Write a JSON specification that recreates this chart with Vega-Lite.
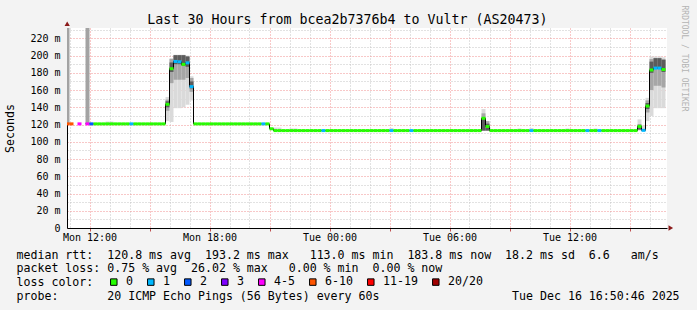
{
  "$schema": "https://vega.github.io/schema/vega-lite/v6.json",
  "width": 600,
  "height": 200,
  "autosize": "none",
  "padding": {"left": 67, "top": 28, "right": 30, "bottom": 82},
  "background": "#f3f3f3",
  "view": {"fill": "#ffffff", "stroke": null},
  "title": {
    "text": "Last 30 Hours from bcea2b7376b4 to Vultr (AS20473)",
    "font": "DejaVu Sans Mono", "fontSize": 13.3, "fontWeight": "normal", "color": "#000000",
    "anchor": "middle", "frame": "group", "baseline": "alphabetic", "offset": 0, "dx": -19.5, "dy": 32.5
  },
  "config": {
    "axis": {"labelFont": "DejaVu Sans Mono", "labelFontSize": 10, "labelColor": "#000000", "titleFont": "DejaVu Sans Mono", "titleFontSize": 11.6, "titleFontWeight": "normal", "titleColor": "#000000"}
  },
  "datasets": {
    "smoke": [
      {"t": 10.8, "t2": 11.0, "lo": 120.8, "hi": 240, "band": "bar"},
      {"t": 11.8, "t2": 12.0, "lo": 120.8, "hi": 240, "band": "bar"},
      {"t": 12.8, "t2": 13.0, "lo": 120.8, "hi": 123.5, "band": "light"},
      {"t": 13.0, "t2": 13.2, "lo": 120.8, "hi": 123.5, "band": "light"},
      {"t": 15.8, "t2": 16.0, "lo": 124, "hi": 152, "band": "light"},
      {"t": 16.0, "t2": 16.2, "lo": 123, "hi": 197, "band": "light"},
      {"t": 16.2, "t2": 16.4, "lo": 139, "hi": 201, "band": "light"},
      {"t": 16.4, "t2": 16.6, "lo": 139, "hi": 201, "band": "light"},
      {"t": 16.6, "t2": 16.8, "lo": 140, "hi": 201, "band": "light"},
      {"t": 16.8, "t2": 17.0, "lo": 143, "hi": 200, "band": "light"},
      {"t": 17.0, "t2": 17.2, "lo": 148, "hi": 176, "band": "light"},
      {"t": 21.2, "t2": 21.4, "lo": 113, "hi": 116.5, "band": "light"},
      {"t": 21.4, "t2": 21.6, "lo": 113, "hi": 116.5, "band": "light"},
      {"t": 22.0, "t2": 22.2, "lo": 113, "hi": 115.5, "band": "light"},
      {"t": 22.2, "t2": 22.4, "lo": 113, "hi": 115.5, "band": "light"},
      {"t": 27.0, "t2": 27.2, "lo": 113, "hi": 116, "band": "light"},
      {"t": 31.6, "t2": 31.8, "lo": 113, "hi": 138, "band": "light"},
      {"t": 33.4, "t2": 33.6, "lo": 113, "hi": 115.5, "band": "light"},
      {"t": 34.0, "t2": 34.2, "lo": 113, "hi": 116, "band": "light"},
      {"t": 35.8, "t2": 36.0, "lo": 113, "hi": 115.5, "band": "light"},
      {"t": 37.2, "t2": 37.4, "lo": 113, "hi": 115.5, "band": "light"},
      {"t": 39.4, "t2": 39.6, "lo": 113, "hi": 126, "band": "light"},
      {"t": 39.6, "t2": 39.8, "lo": 113, "hi": 119, "band": "light"},
      {"t": 39.8, "t2": 40.0, "lo": 124, "hi": 151, "band": "light"},
      {"t": 40.0, "t2": 40.2, "lo": 130, "hi": 199, "band": "light"},
      {"t": 40.2, "t2": 40.4, "lo": 139, "hi": 199, "band": "light"},
      {"t": 40.4, "t2": 40.6, "lo": 139, "hi": 199, "band": "light"},
      {"t": 40.6, "t2": 40.8, "lo": 139, "hi": 198, "band": "light"},
      {"t": 15.8, "t2": 16.0, "lo": 136, "hi": 149, "band": "mid"},
      {"t": 16.0, "t2": 16.2, "lo": 168, "hi": 196, "band": "mid"},
      {"t": 16.2, "t2": 16.4, "lo": 172, "hi": 200, "band": "mid"},
      {"t": 16.4, "t2": 16.6, "lo": 172, "hi": 200, "band": "mid"},
      {"t": 16.6, "t2": 16.8, "lo": 172, "hi": 200, "band": "mid"},
      {"t": 16.8, "t2": 17.0, "lo": 174, "hi": 199, "band": "mid"},
      {"t": 17.0, "t2": 17.2, "lo": 158, "hi": 174, "band": "mid"},
      {"t": 31.6, "t2": 31.8, "lo": 113, "hi": 133, "band": "mid"},
      {"t": 31.8, "t2": 32.0, "lo": 113, "hi": 124, "band": "mid"},
      {"t": 39.8, "t2": 40.0, "lo": 134, "hi": 148, "band": "mid"},
      {"t": 40.0, "t2": 40.2, "lo": 160, "hi": 196, "band": "mid"},
      {"t": 40.2, "t2": 40.4, "lo": 165, "hi": 197, "band": "mid"},
      {"t": 40.4, "t2": 40.6, "lo": 165, "hi": 197, "band": "mid"},
      {"t": 40.6, "t2": 40.8, "lo": 163, "hi": 196, "band": "mid"},
      {"t": 15.8, "t2": 16.0, "lo": 140, "hi": 147, "band": "dark"},
      {"t": 16.0, "t2": 16.2, "lo": 181, "hi": 192, "band": "dark"},
      {"t": 16.2, "t2": 16.4, "lo": 190, "hi": 200.5, "band": "dark"},
      {"t": 16.4, "t2": 16.6, "lo": 190, "hi": 200.5, "band": "dark"},
      {"t": 16.6, "t2": 16.8, "lo": 188, "hi": 200.5, "band": "dark"},
      {"t": 16.8, "t2": 17.0, "lo": 187, "hi": 199, "band": "dark"},
      {"t": 17.0, "t2": 17.2, "lo": 162, "hi": 170, "band": "dark"},
      {"t": 31.6, "t2": 31.8, "lo": 113, "hi": 127, "band": "dark"},
      {"t": 31.8, "t2": 32.0, "lo": 113, "hi": 121, "band": "dark"},
      {"t": 39.4, "t2": 39.6, "lo": 114, "hi": 120, "band": "dark"},
      {"t": 39.8, "t2": 40.0, "lo": 138, "hi": 145, "band": "dark"},
      {"t": 40.0, "t2": 40.2, "lo": 180, "hi": 193, "band": "dark"},
      {"t": 40.2, "t2": 40.4, "lo": 185, "hi": 197, "band": "dark"},
      {"t": 40.4, "t2": 40.6, "lo": 185, "hi": 197, "band": "dark"},
      {"t": 40.6, "t2": 40.8, "lo": 181, "hi": 195, "band": "dark"}
    ],
    "med": [
      {"t": 10.8, "t2": 11.0, "med": 120.8, "loss": "6-10"},
      {"t": 11.0, "t2": 11.2, "med": 120.8, "loss": "6-10"},
      {"t": 11.2, "t2": 11.4, "med": null, "loss": null},
      {"t": 11.4, "t2": 11.6, "med": 120.8, "loss": "4-5"},
      {"t": 11.6, "t2": 11.8, "med": null, "loss": null},
      {"t": 11.8, "t2": 12.0, "med": 120.8, "loss": "4-5"},
      {"t": 12.0, "t2": 12.2, "med": 120.8, "loss": "2"},
      {"t": 12.2, "t2": 12.4, "med": 120.8, "loss": "0"},
      {"t": 12.4, "t2": 12.6, "med": 120.8, "loss": "0"},
      {"t": 12.6, "t2": 12.8, "med": 120.8, "loss": "0"},
      {"t": 12.8, "t2": 13.0, "med": 120.8, "loss": "0"},
      {"t": 13.0, "t2": 13.2, "med": 120.8, "loss": "0"},
      {"t": 13.2, "t2": 13.4, "med": 120.8, "loss": "0"},
      {"t": 13.4, "t2": 13.6, "med": 120.8, "loss": "0"},
      {"t": 13.6, "t2": 13.8, "med": 120.8, "loss": "0"},
      {"t": 13.8, "t2": 14.0, "med": 120.8, "loss": "0"},
      {"t": 14.0, "t2": 14.2, "med": 120.8, "loss": "1"},
      {"t": 14.2, "t2": 14.4, "med": 120.8, "loss": "0"},
      {"t": 14.4, "t2": 14.6, "med": 120.8, "loss": "0"},
      {"t": 14.6, "t2": 14.8, "med": 120.8, "loss": "0"},
      {"t": 14.8, "t2": 15.0, "med": 120.8, "loss": "0"},
      {"t": 15.0, "t2": 15.2, "med": 120.8, "loss": "0"},
      {"t": 15.2, "t2": 15.4, "med": 120.8, "loss": "0"},
      {"t": 15.4, "t2": 15.6, "med": 120.8, "loss": "0"},
      {"t": 15.6, "t2": 15.8, "med": 120.8, "loss": "0"},
      {"t": 15.8, "t2": 16.0, "med": 143.5, "loss": "0"},
      {"t": 16.0, "t2": 16.2, "med": 184.8, "loss": "0"},
      {"t": 16.2, "t2": 16.4, "med": 193.2, "loss": "1"},
      {"t": 16.4, "t2": 16.6, "med": 192.8, "loss": "1"},
      {"t": 16.6, "t2": 16.8, "med": 189.8, "loss": "0"},
      {"t": 16.8, "t2": 17.0, "med": 191.6, "loss": "1"},
      {"t": 17.0, "t2": 17.2, "med": 164.0, "loss": "1"},
      {"t": 17.2, "t2": 17.4, "med": 120.8, "loss": "0"},
      {"t": 17.4, "t2": 17.6, "med": 120.8, "loss": "0"},
      {"t": 17.6, "t2": 17.8, "med": 120.8, "loss": "0"},
      {"t": 17.8, "t2": 18.0, "med": 120.8, "loss": "0"},
      {"t": 18.0, "t2": 18.2, "med": 120.8, "loss": "0"},
      {"t": 18.2, "t2": 18.4, "med": 120.8, "loss": "0"},
      {"t": 18.4, "t2": 18.6, "med": 120.8, "loss": "0"},
      {"t": 18.6, "t2": 18.8, "med": 120.8, "loss": "0"},
      {"t": 18.8, "t2": 19.0, "med": 120.8, "loss": "0"},
      {"t": 19.0, "t2": 19.2, "med": 120.8, "loss": "0"},
      {"t": 19.2, "t2": 19.4, "med": 120.8, "loss": "0"},
      {"t": 19.4, "t2": 19.6, "med": 120.8, "loss": "0"},
      {"t": 19.6, "t2": 19.8, "med": 120.8, "loss": "0"},
      {"t": 19.8, "t2": 20.0, "med": 120.8, "loss": "0"},
      {"t": 20.0, "t2": 20.2, "med": 120.8, "loss": "0"},
      {"t": 20.2, "t2": 20.4, "med": 120.8, "loss": "0"},
      {"t": 20.4, "t2": 20.6, "med": 120.8, "loss": "0"},
      {"t": 20.6, "t2": 20.8, "med": 120.8, "loss": "1"},
      {"t": 20.8, "t2": 21.0, "med": 120.8, "loss": "0"},
      {"t": 21.0, "t2": 21.2, "med": 115.1, "loss": "0"},
      {"t": 21.2, "t2": 21.4, "med": 113.0, "loss": "0"},
      {"t": 21.4, "t2": 21.6, "med": 113.0, "loss": "0"},
      {"t": 21.6, "t2": 21.8, "med": 113.0, "loss": "0"},
      {"t": 21.8, "t2": 22.0, "med": 113.0, "loss": "0"},
      {"t": 22.0, "t2": 22.2, "med": 113.0, "loss": "0"},
      {"t": 22.2, "t2": 22.4, "med": 113.0, "loss": "0"},
      {"t": 22.4, "t2": 22.6, "med": 113.0, "loss": "0"},
      {"t": 22.6, "t2": 22.8, "med": 113.0, "loss": "0"},
      {"t": 22.8, "t2": 23.0, "med": 113.0, "loss": "0"},
      {"t": 23.0, "t2": 23.2, "med": 113.0, "loss": "0"},
      {"t": 23.2, "t2": 23.4, "med": 113.0, "loss": "0"},
      {"t": 23.4, "t2": 23.6, "med": 113.0, "loss": "0"},
      {"t": 23.6, "t2": 23.8, "med": 113.0, "loss": "1"},
      {"t": 23.8, "t2": 24.0, "med": 113.0, "loss": "0"},
      {"t": 24.0, "t2": 24.2, "med": 113.0, "loss": "0"},
      {"t": 24.2, "t2": 24.4, "med": 113.0, "loss": "0"},
      {"t": 24.4, "t2": 24.6, "med": 113.0, "loss": "0"},
      {"t": 24.6, "t2": 24.8, "med": 113.0, "loss": "0"},
      {"t": 24.8, "t2": 25.0, "med": 113.0, "loss": "0"},
      {"t": 25.0, "t2": 25.2, "med": 113.0, "loss": "0"},
      {"t": 25.2, "t2": 25.4, "med": 113.0, "loss": "0"},
      {"t": 25.4, "t2": 25.6, "med": 113.0, "loss": "0"},
      {"t": 25.6, "t2": 25.8, "med": 113.0, "loss": "0"},
      {"t": 25.8, "t2": 26.0, "med": 113.0, "loss": "0"},
      {"t": 26.0, "t2": 26.2, "med": 113.0, "loss": "0"},
      {"t": 26.2, "t2": 26.4, "med": 113.0, "loss": "0"},
      {"t": 26.4, "t2": 26.6, "med": 113.0, "loss": "0"},
      {"t": 26.6, "t2": 26.8, "med": 113.0, "loss": "0"},
      {"t": 26.8, "t2": 27.0, "med": 113.0, "loss": "0"},
      {"t": 27.0, "t2": 27.2, "med": 113.0, "loss": "1"},
      {"t": 27.2, "t2": 27.4, "med": 113.0, "loss": "0"},
      {"t": 27.4, "t2": 27.6, "med": 113.0, "loss": "0"},
      {"t": 27.6, "t2": 27.8, "med": 113.0, "loss": "0"},
      {"t": 27.8, "t2": 28.0, "med": 113.0, "loss": "0"},
      {"t": 28.0, "t2": 28.2, "med": 113.0, "loss": "1"},
      {"t": 28.2, "t2": 28.4, "med": 113.0, "loss": "0"},
      {"t": 28.4, "t2": 28.6, "med": 113.0, "loss": "0"},
      {"t": 28.6, "t2": 28.8, "med": 113.0, "loss": "0"},
      {"t": 28.8, "t2": 29.0, "med": 113.0, "loss": "0"},
      {"t": 29.0, "t2": 29.2, "med": 113.0, "loss": "0"},
      {"t": 29.2, "t2": 29.4, "med": 113.0, "loss": "0"},
      {"t": 29.4, "t2": 29.6, "med": 113.0, "loss": "0"},
      {"t": 29.6, "t2": 29.8, "med": 113.0, "loss": "0"},
      {"t": 29.8, "t2": 30.0, "med": 113.0, "loss": "0"},
      {"t": 30.0, "t2": 30.2, "med": 113.0, "loss": "0"},
      {"t": 30.2, "t2": 30.4, "med": 113.0, "loss": "0"},
      {"t": 30.4, "t2": 30.6, "med": 113.0, "loss": "0"},
      {"t": 30.6, "t2": 30.8, "med": 113.0, "loss": "0"},
      {"t": 30.8, "t2": 31.0, "med": 113.0, "loss": "0"},
      {"t": 31.0, "t2": 31.2, "med": 113.0, "loss": "0"},
      {"t": 31.2, "t2": 31.4, "med": 113.0, "loss": "0"},
      {"t": 31.4, "t2": 31.6, "med": 113.0, "loss": "0"},
      {"t": 31.6, "t2": 31.8, "med": 127.3, "loss": "0"},
      {"t": 31.8, "t2": 32.0, "med": 117.8, "loss": "0"},
      {"t": 32.0, "t2": 32.2, "med": 113.0, "loss": "0"},
      {"t": 32.2, "t2": 32.4, "med": 113.0, "loss": "0"},
      {"t": 32.4, "t2": 32.6, "med": 113.0, "loss": "0"},
      {"t": 32.6, "t2": 32.8, "med": 113.0, "loss": "0"},
      {"t": 32.8, "t2": 33.0, "med": 113.0, "loss": "0"},
      {"t": 33.0, "t2": 33.2, "med": 113.0, "loss": "0"},
      {"t": 33.2, "t2": 33.4, "med": 113.0, "loss": "0"},
      {"t": 33.4, "t2": 33.6, "med": 113.0, "loss": "0"},
      {"t": 33.6, "t2": 33.8, "med": 113.0, "loss": "0"},
      {"t": 33.8, "t2": 34.0, "med": 113.0, "loss": "0"},
      {"t": 34.0, "t2": 34.2, "med": 113.0, "loss": "1"},
      {"t": 34.2, "t2": 34.4, "med": 113.0, "loss": "0"},
      {"t": 34.4, "t2": 34.6, "med": 113.0, "loss": "0"},
      {"t": 34.6, "t2": 34.8, "med": 113.0, "loss": "0"},
      {"t": 34.8, "t2": 35.0, "med": 113.0, "loss": "0"},
      {"t": 35.0, "t2": 35.2, "med": 113.0, "loss": "0"},
      {"t": 35.2, "t2": 35.4, "med": 113.0, "loss": "0"},
      {"t": 35.4, "t2": 35.6, "med": 113.0, "loss": "0"},
      {"t": 35.6, "t2": 35.8, "med": 113.0, "loss": "0"},
      {"t": 35.8, "t2": 36.0, "med": 113.0, "loss": "0"},
      {"t": 36.0, "t2": 36.2, "med": 113.0, "loss": "0"},
      {"t": 36.2, "t2": 36.4, "med": 113.0, "loss": "0"},
      {"t": 36.4, "t2": 36.6, "med": 113.0, "loss": "0"},
      {"t": 36.6, "t2": 36.8, "med": 113.0, "loss": "0"},
      {"t": 36.8, "t2": 37.0, "med": 113.0, "loss": "1"},
      {"t": 37.0, "t2": 37.2, "med": 113.0, "loss": "0"},
      {"t": 37.2, "t2": 37.4, "med": 113.0, "loss": "0"},
      {"t": 37.4, "t2": 37.6, "med": 113.0, "loss": "1"},
      {"t": 37.6, "t2": 37.8, "med": 113.0, "loss": "0"},
      {"t": 37.8, "t2": 38.0, "med": 113.0, "loss": "0"},
      {"t": 38.0, "t2": 38.2, "med": 113.0, "loss": "0"},
      {"t": 38.2, "t2": 38.4, "med": 113.0, "loss": "0"},
      {"t": 38.4, "t2": 38.6, "med": 113.0, "loss": "0"},
      {"t": 38.6, "t2": 38.8, "med": 113.0, "loss": "0"},
      {"t": 38.8, "t2": 39.0, "med": 113.0, "loss": "0"},
      {"t": 39.0, "t2": 39.2, "med": 113.0, "loss": "0"},
      {"t": 39.2, "t2": 39.4, "med": 113.0, "loss": "0"},
      {"t": 39.4, "t2": 39.6, "med": 117.8, "loss": "0"},
      {"t": 39.6, "t2": 39.8, "med": 113.3, "loss": "1"},
      {"t": 39.8, "t2": 40.0, "med": 141.5, "loss": "0"},
      {"t": 40.0, "t2": 40.2, "med": 183.3, "loss": "0"},
      {"t": 40.2, "t2": 40.4, "med": 185.5, "loss": "1"},
      {"t": 40.4, "t2": 40.6, "med": 185.5, "loss": "1"},
      {"t": 40.6, "t2": 40.8, "med": 183.8, "loss": "0"}
    ]
  },
  "layer": [
    {
      "data": {"name": "smoke"},
      "mark": {"type": "rect", "clip": true},
      "encoding": {
        "x": {
          "field": "t", "type": "quantitative",
          "scale": {"domain": [10.875, 40.875], "nice": false, "zero": false},
          "axis": {
            "orient": "bottom",
            "values": [12, 15, 18, 21, 24, 27, 30, 33, 36, 39],
            "labelExpr": "datum.value==12?'Mon 12:00':datum.value==18?'Mon 18:00':datum.value==24?'Tue 00:00':datum.value==30?'Tue 06:00':datum.value==36?'Tue 12:00':''",
            "labelFlush": false, "labelOverlap": false, "labelPadding": 1,
            "grid": true, "gridColor": "#f09090", "gridDash": [1, 2], "gridOpacity": 1,
            "domain": true, "domainColor": "#000000", "domainWidth": 1,
            "ticks": true, "tickSize": 3, "tickColor": "#c05050",
            "title": [
              "median rtt:\u00a0\u00a0120.8 ms avg\u00a0\u00a0193.2 ms max\u00a0\u00a0\u00a0113.0 ms min\u00a0\u00a0183.8 ms now\u00a0\u00a018.2 ms sd\u00a0\u00a06.6\u00a0\u00a0\u00a0am/s",
              "packet loss: 0.75 % avg\u00a0\u00a026.02 % max\u00a0\u00a0\u00a00.00 % min\u00a0\u00a00.00 % now",
              "loss color:",
              "probe:\u00a0\u00a0\u00a0\u00a0\u00a0\u00a0\u00a020 ICMP Echo Pings (56 Bytes) every 60s\u00a0\u00a0\u00a0\u00a0\u00a0\u00a0\u00a0\u00a0\u00a0\u00a0\u00a0\u00a0\u00a0\u00a0\u00a0\u00a0\u00a0\u00a0\u00a0Tue Dec 16 16:50:46 2025"
            ],
            "titleX": -51, "titleY": 30, "titleAnchor": "start", "titleAlign": "left", "titleBaseline": "alphabetic",
            "titleLineHeight": 13.9, "titleFontSize": 11.6
          }
        },
        "x2": {"field": "t2"},
        "y": {
          "field": "lo", "type": "quantitative",
          "scale": {"domain": [0, 232], "nice": false},
          "axis": {
            "orient": "left",
            "values": [0, 20, 40, 60, 80, 100, 120, 140, 160, 180, 200, 220],
            "labelExpr": "datum.value==0?'0\u00a0\u00a0':datum.value+' m'",
            "labelPadding": 7, "ticks": false,
            "grid": true, "gridColor": "#f09090", "gridDash": [1, 2], "gridOpacity": 1,
            "domain": true, "domainColor": "#000000", "domainWidth": 1,
            "title": "Seconds", "titleX": -57, "titleY": 100, "titleAngle": 270,
            "titleAlign": "center", "titleBaseline": "middle", "titleFontSize": 11.6
          }
        },
        "y2": {"field": "hi"},
        "color": {
          "field": "band", "type": "nominal",
          "scale": {"domain": ["light", "mid", "dark", "bar"], "range": ["#dadada", "#a6a6a6", "#5c5c5c", "#a3a3a3"]},
          "legend": null
        }
      }
    },
    {
      "data": {"name": "med"},
      "mark": {"type": "line", "interpolate": "step-after", "color": "#000000", "strokeWidth": 1, "clip": true},
      "encoding": {
        "x": {"field": "t", "type": "quantitative", "scale": {"domain": [10.875, 40.875], "nice": false, "zero": false}, "axis": null},
        "y": {
          "field": "med", "type": "quantitative", "scale": {"domain": [0, 232], "nice": false},
          "axis": {
            "orient": "right", "labels": false, "ticks": false, "domain": false, "grid": false,
            "title": "RRDTOOL / TOBI OETIKER", "titleAngle": 90, "titleX": 16, "titleY": 30,
            "titleAlign": "center", "titleBaseline": "middle", "titleFontSize": 8, "titleColor": "#b4b4b4"
          }
        }
      }
    },
    {
      "data": {"name": "med"},
      "mark": {"type": "rule", "strokeWidth": 3, "clip": true},
      "encoding": {
        "x": {
          "field": "t", "type": "quantitative", "scale": {"domain": [10.875, 40.875], "nice": false, "zero": false},
          "axis": {
            "orient": "bottom", "values": [11, 13, 14, 16, 17, 19, 20, 22, 23, 25, 26, 28, 29, 31, 32, 34, 35, 37, 38, 40],
            "labels": false, "ticks": false, "domain": false, "title": null,
            "grid": true, "gridColor": "#c4c4c4", "gridDash": [1, 2], "gridOpacity": 1
          }
        },
        "x2": {"field": "t2"},
        "y": {
          "field": "med", "type": "quantitative", "scale": {"domain": [0, 232], "nice": false},
          "axis": {
            "orient": "left", "values": [10, 30, 50, 70, 90, 110, 130, 150, 170, 190, 210, 230],
            "labels": false, "ticks": false, "domain": false, "title": null,
            "grid": true, "gridColor": "#c4c4c4", "gridDash": [1, 2], "gridOpacity": 1
          }
        },
        "color": {
          "field": "loss", "type": "nominal",
          "scale": {"domain": ["0", "1", "2", "3", "4-5", "6-10", "11-19", "20/20"], "range": ["#26ff00", "#00b8ff", "#0059ff", "#7e00ff", "#ff00ff", "#ff5500", "#ff0000", "#a10000"]},
          "legend": null
        }
      }
    },
    {
      "data": {"name": "med"},
      "transform": [{"filter": "datum.med > 1000"}],
      "mark": {"type": "square", "filled": true, "stroke": "#000000", "strokeWidth": 1, "opacity": 1},
      "encoding": {
        "x": {"field": "t", "type": "quantitative", "scale": {"domain": [10.875, 40.875], "nice": false, "zero": false}, "axis": null},
        "y": {"field": "med", "type": "quantitative", "scale": {"domain": [0, 232], "nice": false}, "axis": null},
        "color": {
          "field": "loss", "type": "nominal",
          "scale": {"domain": ["0", "1", "2", "3", "4-5", "6-10", "11-19", "20/20"], "range": ["#26ff00", "#00b8ff", "#0059ff", "#7e00ff", "#ff00ff", "#ff5500", "#ff0000", "#a10000"]},
          "legend": {
            "orient": "none", "legendX": 41, "legendY": 248, "direction": "horizontal",
            "title": null,
            "labelFont": "DejaVu Sans Mono", "labelFontSize": 11.6, "labelColor": "#000000", "labelOffset": 6.5,
            "symbolType": "square", "symbolSize": 42, "symbolStrokeColor": "#000000", "symbolStrokeWidth": 1, "symbolOpacity": 1,
            "columnPadding": 11, "padding": 0
          }
        }
      }
    },
    {
      "data": {"values": [{}]},
      "mark": {"type": "point", "shape": "triangle-right", "filled": true, "color": "#8b1a1a", "size": 28, "opacity": 1, "clip": false},
      "encoding": {
        "x": {"datum": 41.065, "type": "quantitative", "scale": {"domain": [10.875, 40.875], "nice": false, "zero": false}, "axis": null},
        "y": {"datum": 0, "type": "quantitative", "scale": {"domain": [0, 232], "nice": false}, "axis": null}
      }
    },
    {
      "data": {"values": [{}]},
      "mark": {"type": "point", "shape": "triangle-up", "filled": true, "color": "#8b1a1a", "size": 28, "opacity": 1, "clip": false},
      "encoding": {
        "x": {"datum": 10.885, "type": "quantitative", "scale": {"domain": [10.875, 40.875], "nice": false, "zero": false}, "axis": null},
        "y": {"datum": 237, "type": "quantitative", "scale": {"domain": [0, 232], "nice": false}, "axis": null}
      }
    }
  ],
  "resolve": {
    "axis": {"x": "independent", "y": "independent"},
    "scale": {"color": "independent"}
  }
}
